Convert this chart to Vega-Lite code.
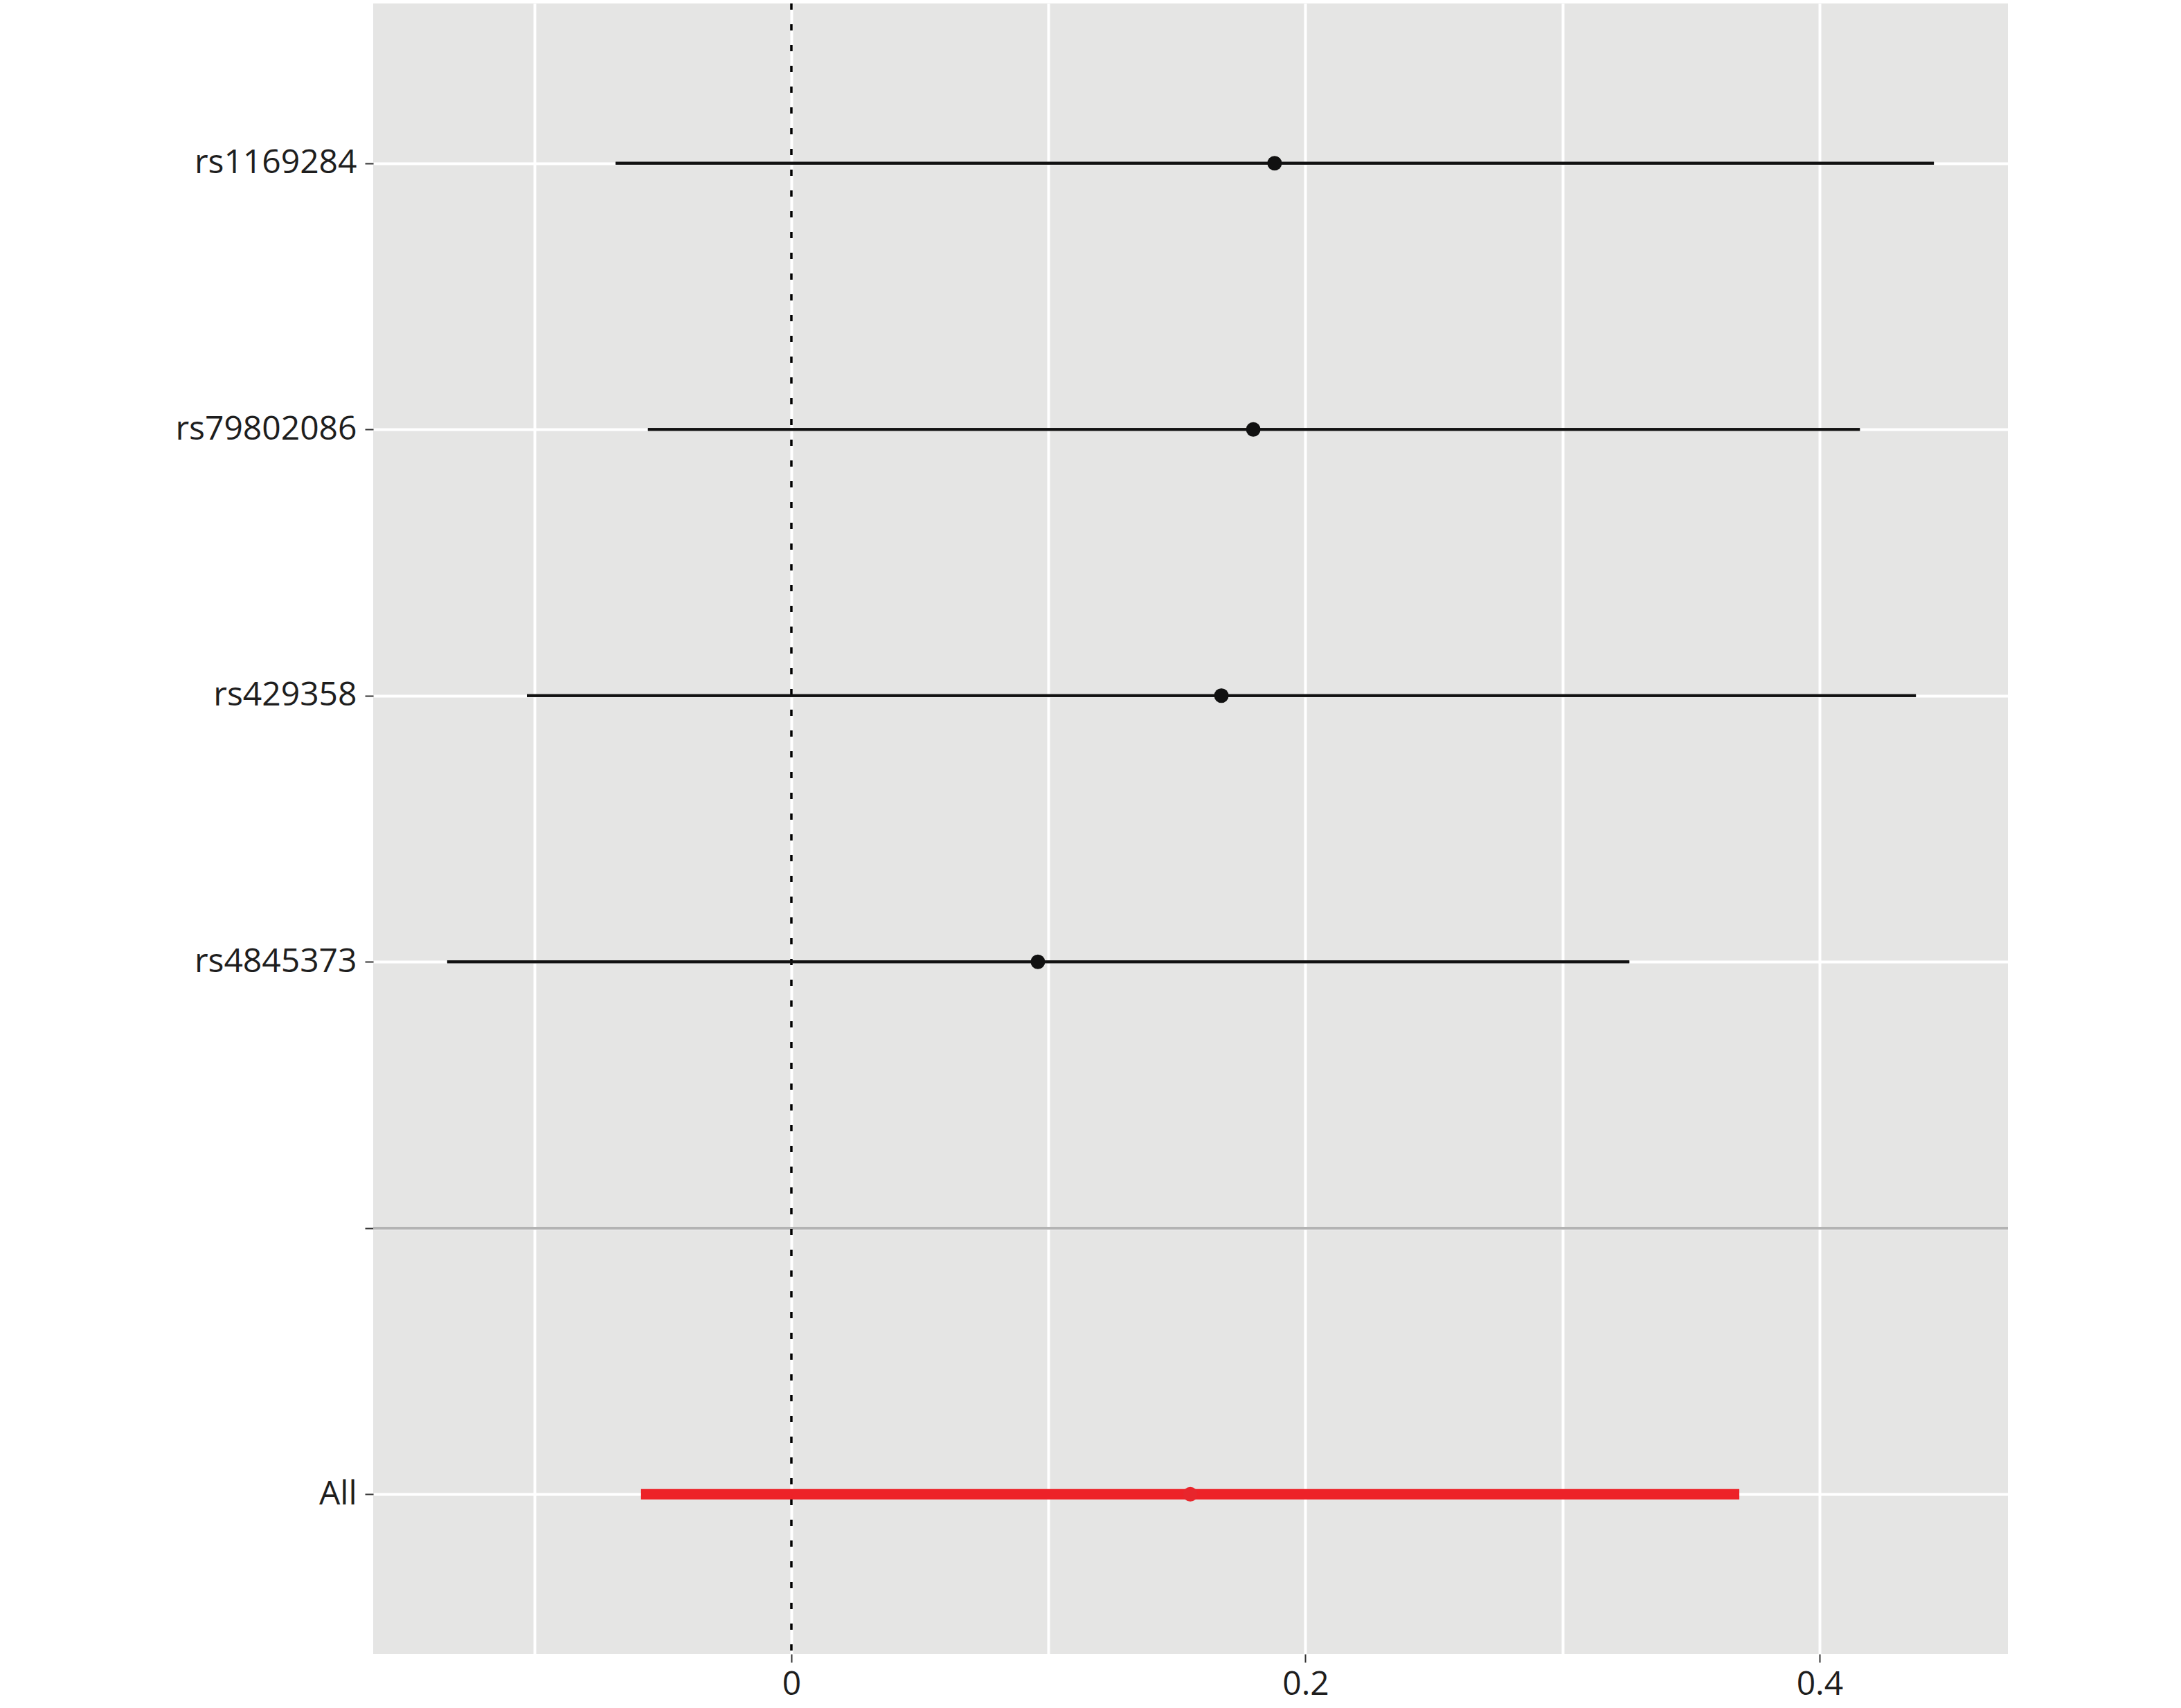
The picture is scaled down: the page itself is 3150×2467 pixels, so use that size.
{
  "$schema": "https://vega.github.io/schema/vega-lite/v6.json",
  "autosize": "none",
  "width": 2361,
  "height": 2384,
  "padding": {"left": 539, "top": 5, "right": 250, "bottom": 78},
  "background": "white",
  "config": {
    "view": {"fill": "#E5E5E4", "stroke": null},
    "font": "Open Sans"
  },
  "data": {
    "values": [
      {"snp": "rs1169284", "type": "snp", "est": 0.188, "lo": -0.0684, "hi": 0.4445},
      {"snp": "rs79802086", "type": "snp", "est": 0.1797, "lo": -0.0558, "hi": 0.4157},
      {"snp": "rs429358", "type": "snp", "est": 0.1673, "lo": -0.1029, "hi": 0.4375},
      {"snp": "rs4845373", "type": "snp", "est": 0.0959, "lo": -0.1339, "hi": 0.326},
      {"snp": "All", "type": "all", "est": 0.1552, "lo": -0.0585, "hi": 0.3688}
    ]
  },
  "layer": [
    {
      "transform": [{"filter": "datum.type == 'snp'"}],
      "mark": {"type": "rule", "color": "#111111", "strokeWidth": 4},
      "encoding": {
        "y": {
          "field": "snp",
          "type": "nominal",
          "scale": {"type": "point", "domain": ["rs1169284", "rs79802086", "rs429358", "rs4845373", "sep", "All"], "padding": 0.6},
          "axis": {
            "title": null,
            "domain": false,
            "labelExpr": "datum.value == 'sep' ? '' : datum.value",
            "labelFontSize": 48,
            "labelLimit": 1000,
            "labelColor": "#1E1E1E",
            "labelPadding": 12,
            "tickSize": 12,
            "tickWidth": 2,
            "tickColor": "#333333",
            "grid": true,
            "gridColor": "white",
            "gridWidth": 4
          }
        },
        "x": {
          "field": "lo",
          "type": "quantitative",
          "scale": {"domain": [-0.1627, 0.4733], "nice": false, "zero": false},
          "axis": {
            "title": null,
            "domain": false,
            "values": [-0.1, 0, 0.1, 0.2, 0.3, 0.4],
            "format": ".1f",
            "labelExpr": "indexof([0, 0.2, 0.4], datum.value) < 0 ? '' : (datum.value == 0 ? '0' : datum.label)",
            "labelFontSize": 48,
            "labelColor": "#1E1E1E",
            "labelPadding": 8,
            "tickSize": 12,
            "tickWidth": 2,
            "tickColor": "#333333",
            "tickOpacity": {"condition": {"test": "indexof([0, 0.2, 0.4], datum.value) < 0", "value": 0}, "value": 1},
            "grid": true,
            "gridColor": "white",
            "gridWidth": 4
          }
        },
        "x2": {"field": "hi"}
      }
    },
    {
      "mark": {"type": "rule", "color": "#B3B3B3", "strokeWidth": 3.5},
      "encoding": {"y": {"datum": "sep", "type": "nominal"}}
    },
    {
      "mark": {"type": "rule", "color": "#000000", "strokeWidth": 2.5, "strokeDash": [9, 21]},
      "encoding": {"x": {"datum": 0, "type": "quantitative"}}
    },
    {
      "transform": [{"filter": "datum.type == 'snp'"}],
      "mark": {"type": "rule", "color": "#111111", "strokeWidth": 4},
      "encoding": {
        "y": {"field": "snp", "type": "nominal"},
        "x": {"field": "lo", "type": "quantitative"},
        "x2": {"field": "hi"}
      }
    },
    {
      "transform": [{"filter": "datum.type == 'all'"}],
      "mark": {"type": "rule", "color": "#ED2228", "strokeWidth": 15},
      "encoding": {
        "y": {"field": "snp", "type": "nominal"},
        "x": {"field": "lo", "type": "quantitative"},
        "x2": {"field": "hi"}
      }
    },
    {
      "transform": [{"filter": "datum.type == 'snp'"}],
      "mark": {"type": "point", "shape": "circle", "filled": true, "color": "#111111", "size": 441, "opacity": 1},
      "encoding": {
        "y": {"field": "snp", "type": "nominal"},
        "x": {"field": "est", "type": "quantitative"}
      }
    },
    {
      "transform": [{"filter": "datum.type == 'all'"}],
      "mark": {"type": "point", "shape": "circle", "filled": true, "color": "#E8262C", "size": 441, "opacity": 1},
      "encoding": {
        "y": {"field": "snp", "type": "nominal"},
        "x": {"field": "est", "type": "quantitative"}
      }
    }
  ]
}
